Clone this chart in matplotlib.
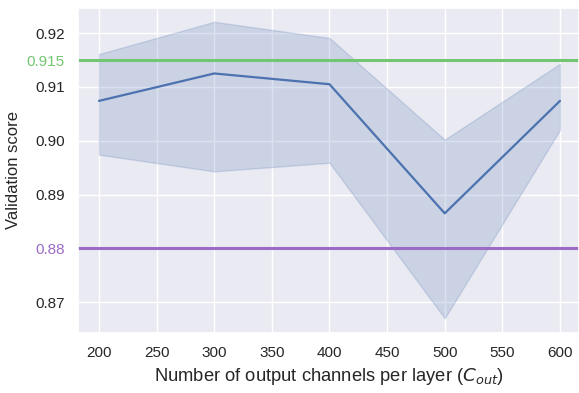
import numpy as np
import matplotlib.pyplot as plt
import seaborn as sns

sns.set_theme(style='darkgrid', context='notebook')
plt.rcParams['font.family'] = ['Liberation Sans', 'DejaVu Sans']

c_out = [200, 300, 400, 500, 600]
score_mean = [0.9074, 0.9125, 0.9105, 0.8865, 0.9074]
score_upper = [0.9161, 0.9221, 0.9191, 0.9002, 0.9143]
score_lower = [0.8974, 0.8943, 0.8959, 0.8670, 0.9020]

baseline_hi = 0.915
baseline_lo = 0.88
green = '#72c672'
purple = '#9b6bc6'

fig = plt.figure(figsize=(5.79, 3.93), dpi=100)
ax = fig.add_axes([78 / 579, 1 - 333 / 393, 501 / 579, 325.5 / 393])

ax.plot(c_out, score_mean, color='#4c72b0', lw=1.6)
# confidence band, edge drawn like seaborn's lineplot
ax.fill_between(c_out, score_lower, score_upper, color='#4c72b0', alpha=0.2, lw=1)
ax.axhline(baseline_hi, color=green, lw=2.2)
ax.axhline(baseline_lo, color=purple, lw=2.2)

ax.set_xlim(181.8, 616.5)
ax.set_ylim(0.86426, 0.92476)
ax.set_xticks(range(200, 601, 50))
yt = [0.87, 0.88, 0.89, 0.90, 0.91, 0.915, 0.92]
ax.set_yticks(yt)
ax.set_yticklabels(['0.87', '0.88', '0.89', '0.90', '0.91', '0.915', '0.92'])
for lab in ax.get_yticklabels():
    if lab.get_text() == '0.915':
        lab.set_color(green)
    elif lab.get_text() == '0.88':
        lab.set_color(purple)

ax.set_xlabel('Number of output channels per layer ($C_{out}$)', fontsize=13.2)
ax.set_ylabel('Validation score')

fig.savefig('out.png', dpi=100)
